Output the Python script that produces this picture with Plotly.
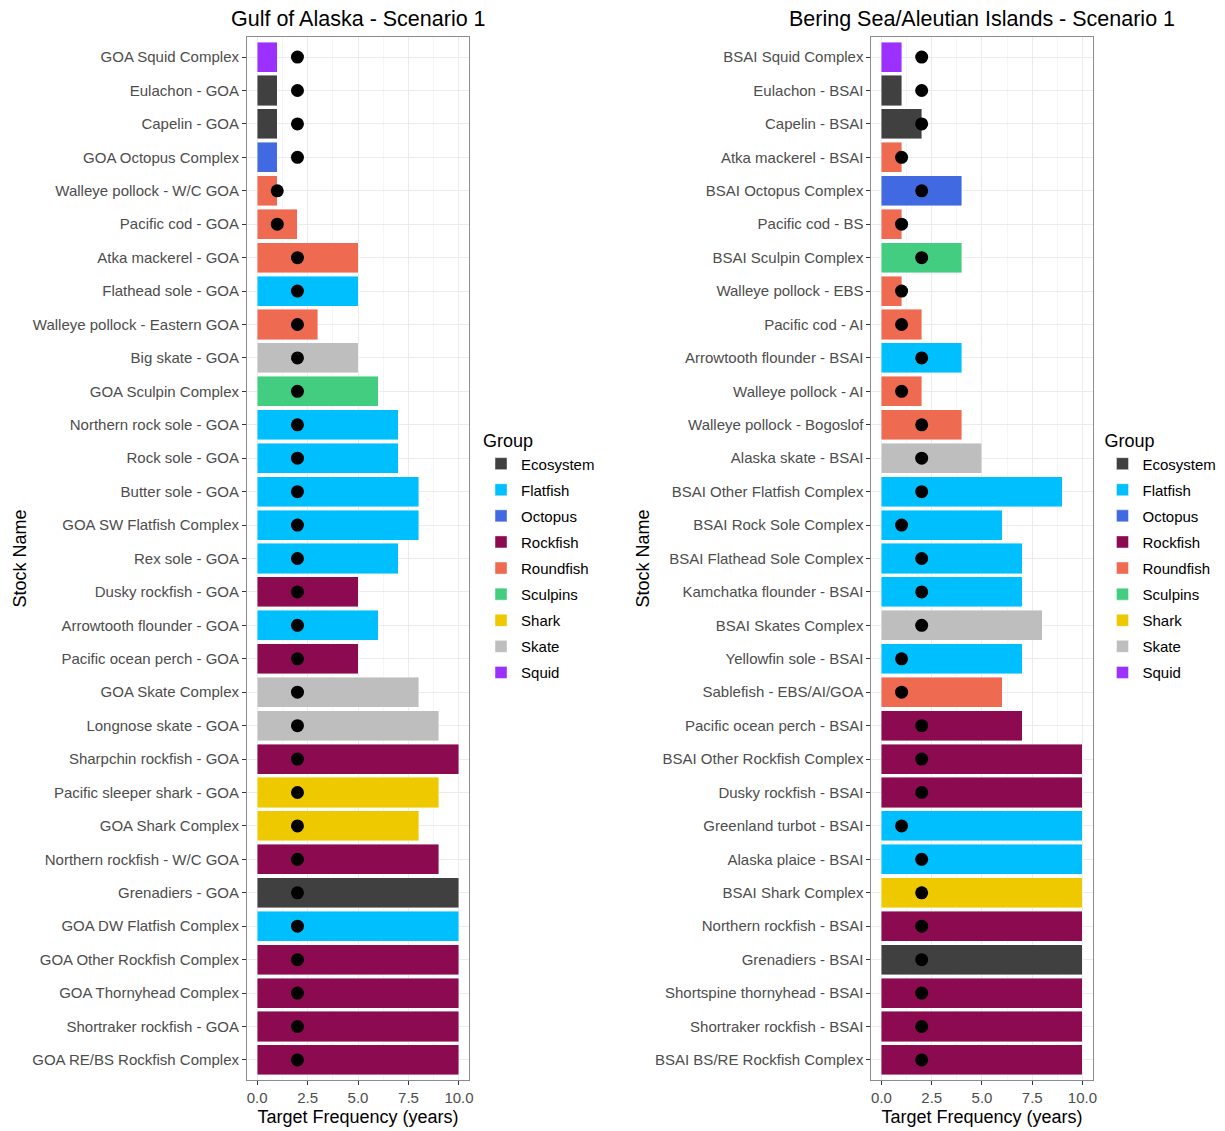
import plotly.graph_objects as go

# ---------------- data ----------------
goa_names = [
    "GOA Squid Complex", "Eulachon - GOA", "Capelin - GOA", "GOA Octopus Complex",
    "Walleye pollock - W/C GOA", "Pacific cod - GOA", "Atka mackerel - GOA",
    "Flathead sole - GOA", "Walleye pollock - Eastern GOA", "Big skate - GOA",
    "GOA Sculpin Complex", "Northern rock sole - GOA", "Rock sole - GOA",
    "Butter sole - GOA", "GOA SW Flatfish Complex", "Rex sole - GOA",
    "Dusky rockfish - GOA", "Arrowtooth flounder - GOA", "Pacific ocean perch - GOA",
    "GOA Skate Complex", "Longnose skate - GOA", "Sharpchin rockfish - GOA",
    "Pacific sleeper shark - GOA", "GOA Shark Complex", "Northern rockfish - W/C GOA",
    "Grenadiers - GOA", "GOA DW Flatfish Complex", "GOA Other Rockfish Complex",
    "GOA Thornyhead Complex", "Shortraker rockfish - GOA", "GOA RE/BS Rockfish Complex",
]
goa_group = [
    "Squid", "Ecosystem", "Ecosystem", "Octopus",
    "Roundfish", "Roundfish", "Roundfish",
    "Flatfish", "Roundfish", "Skate",
    "Sculpins", "Flatfish", "Flatfish",
    "Flatfish", "Flatfish", "Flatfish",
    "Rockfish", "Flatfish", "Rockfish",
    "Skate", "Skate", "Rockfish",
    "Shark", "Shark", "Rockfish",
    "Ecosystem", "Flatfish", "Rockfish",
    "Rockfish", "Rockfish", "Rockfish",
]
goa_target = [1, 1, 1, 1, 1, 2, 5, 5, 3, 5, 6, 7, 7, 8, 8, 7, 5, 6, 5, 8, 9, 10,
              9, 8, 9, 10, 10, 10, 10, 10, 10]
goa_point = [2, 2, 2, 2, 1, 1, 2, 2, 2, 2, 2, 2, 2, 2, 2, 2, 2, 2, 2, 2, 2, 2,
             2, 2, 2, 2, 2, 2, 2, 2, 2]

bsai_names = [
    "BSAI Squid Complex", "Eulachon - BSAI", "Capelin - BSAI", "Atka mackerel - BSAI",
    "BSAI Octopus Complex", "Pacific cod - BS", "BSAI Sculpin Complex",
    "Walleye pollock - EBS", "Pacific cod - AI", "Arrowtooth flounder - BSAI",
    "Walleye pollock - AI", "Walleye pollock - Bogoslof", "Alaska skate - BSAI",
    "BSAI Other Flatfish Complex", "BSAI Rock Sole Complex", "BSAI Flathead Sole Complex",
    "Kamchatka flounder - BSAI", "BSAI Skates Complex", "Yellowfin sole - BSAI",
    "Sablefish - EBS/AI/GOA", "Pacific ocean perch - BSAI", "BSAI Other Rockfish Complex",
    "Dusky rockfish - BSAI", "Greenland turbot - BSAI", "Alaska plaice - BSAI",
    "BSAI Shark Complex", "Northern rockfish - BSAI", "Grenadiers - BSAI",
    "Shortspine thornyhead - BSAI", "Shortraker rockfish - BSAI", "BSAI BS/RE Rockfish Complex",
]
bsai_group = [
    "Squid", "Ecosystem", "Ecosystem", "Roundfish",
    "Octopus", "Roundfish", "Sculpins",
    "Roundfish", "Roundfish", "Flatfish",
    "Roundfish", "Roundfish", "Skate",
    "Flatfish", "Flatfish", "Flatfish",
    "Flatfish", "Skate", "Flatfish",
    "Roundfish", "Rockfish", "Rockfish",
    "Rockfish", "Flatfish", "Flatfish",
    "Shark", "Rockfish", "Ecosystem",
    "Rockfish", "Rockfish", "Rockfish",
]
bsai_target = [1, 1, 2, 1, 4, 1, 4, 1, 2, 4, 2, 4, 5, 9, 6, 7, 7, 8, 7, 6, 7, 10,
               10, 10, 10, 10, 10, 10, 10, 10, 10]
bsai_point = [2, 2, 2, 1, 2, 1, 2, 1, 1, 2, 1, 2, 2, 2, 1, 2, 2, 2, 1, 1, 2, 2,
              2, 1, 2, 2, 2, 2, 2, 2, 2]

groups = ["Ecosystem", "Flatfish", "Octopus", "Rockfish", "Roundfish",
          "Sculpins", "Shark", "Skate", "Squid"]
group_colors = ["#404040", "#00BFFF", "#4169E1", "#8B0A50", "#EE6A50",
                "#43CD80", "#EEC900", "#BEBEBE", "#9B30FF"]

x_ticks = [0, 2.5, 5, 7.5, 10]

FONT = "Liberation Sans, Arial, sans-serif"
W, H = 1225, 1131

fig = go.Figure()

panels = [
    ("x", "y", "legend", goa_names, goa_group, goa_target, goa_point),
    ("x2", "y2", "legend2", bsai_names, bsai_group, bsai_target, bsai_point),
]

for xa, ya, leg, names, grp, tgt, pt in panels:
    for g, c in zip(groups, group_colors):
        ys = [n for n, gg in zip(names, grp) if gg == g]
        xs = [t for t, gg in zip(tgt, grp) if gg == g]
        fig.add_trace(go.Bar(
            x=xs, y=ys, orientation="h", name=g, legend=leg,
            legendgroup=leg + g, showlegend=True,
            marker=dict(color=c, line=dict(color="rgba(255,255,255,0.7)", width=0.6)),
            xaxis=xa, yaxis=ya, hoverinfo="x+y+name",
        ))
    fig.add_trace(go.Scatter(
        x=pt, y=names, mode="markers", showlegend=False,
        marker=dict(color="black", size=13),
        xaxis=xa, yaxis=ya,
    ))

ydom = [(H - 1080) / H, (H - 37) / H]
xdom1 = [248 / W, 471 / W]
xdom2 = [875 / W, 1097 / W]

def xaxis_cfg(dom, anchor):
    return dict(
        domain=dom, anchor=anchor, range=[-0.5, 10.5],
        tickmode="array", tickvals=x_ticks, tickformat=".1f",
        ticks="outside", ticklen=4, tickcolor="#333333", tickwidth=1,
        tickfont=dict(family=FONT, size=15, color="#4D4D4D"),
        showgrid=True, gridcolor="#EBEBEB", gridwidth=1,
        minor=dict(tickvals=[1.25, 3.75, 6.25, 8.75], showgrid=True,
                   gridcolor="#F5F5F5", gridwidth=0.6, ticks=""),
        showline=True, mirror=True, linecolor="#8C8C8C", linewidth=1,
        zeroline=False,
        title=dict(text="Target Frequency (years)", standoff=5,
                   font=dict(family=FONT, size=18, color="black")),
    )

def yaxis_cfg(anchor, names):
    return dict(
        domain=ydom, anchor=anchor, type="category",
        categoryorder="array", categoryarray=names,
        range=[len(names) - 0.4, -0.6],
        ticks="outside", ticklen=4, tickcolor="#333333", tickwidth=1,
        tickfont=dict(family=FONT, size=15, color="#4D4D4D"),
        showgrid=True, gridcolor="#EBEBEB", gridwidth=1,
        showline=True, mirror=True, linecolor="#8C8C8C", linewidth=1,
        zeroline=False,
        title=dict(text="Stock Name", standoff=0,
                   font=dict(family=FONT, size=18, color="black")),
    )

legend_common = dict(
    font=dict(family=FONT, size=15, color="black"),
    title=dict(text="Group", font=dict(family=FONT, size=18, color="black")),
    tracegroupgap=3.6, xanchor="left", yanchor="top", bgcolor="rgba(0,0,0,0)",
    itemclick=False, itemdoubleclick=False,
)

fig.update_layout(
    width=W, height=H,
    margin=dict(l=0, r=0, t=0, b=0),
    paper_bgcolor="white", plot_bgcolor="white",
    barmode="stack", bargap=0.1,
    showlegend=True,
    xaxis=xaxis_cfg(xdom1, "y"),
    yaxis=yaxis_cfg("x", goa_names),
    xaxis2=xaxis_cfg(xdom2, "y2"),
    yaxis2=yaxis_cfg("x2", bsai_names),
    legend=dict(x=483 / W, y=(H - 424) / H, **legend_common),
    legend2=dict(x=1107 / W, y=(H - 424) / H, **legend_common),
    annotations=[
        dict(text="Gulf of Alaska - Scenario 1", x=(xdom1[0] + xdom1[1]) / 2,
             y=(H - 19) / H, xref="paper", yref="paper", showarrow=False,
             xanchor="center", yanchor="middle",
             font=dict(family=FONT, size=21.5, color="black")),
        dict(text="Bering Sea/Aleutian Islands - Scenario 1",
             x=(xdom2[0] + xdom2[1]) / 2,
             y=(H - 19) / H, xref="paper", yref="paper", showarrow=False,
             xanchor="center", yanchor="middle",
             font=dict(family=FONT, size=21.5, color="black")),
    ],
)

fig.write_html(
    "out.html",
    config={"displayModeBar": False},
    post_script="document.body.style.margin='0';document.body.style.overflow='hidden';",
)
